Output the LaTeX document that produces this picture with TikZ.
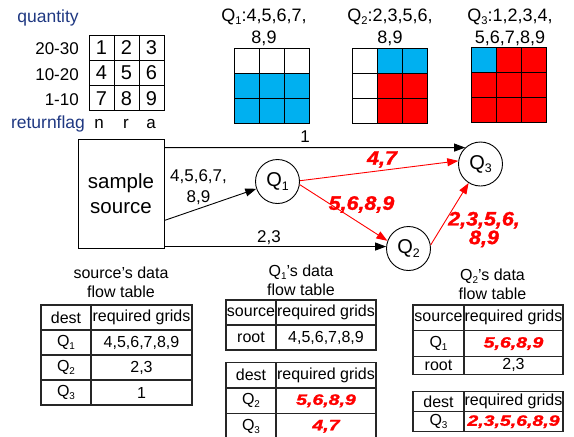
\documentclass[tikz,border=0pt]{standalone}
\usepackage{fontspec}
\setmainfont{Liberation Sans}
\newfontfamily\heavyfont{Liberation Sans}[BoldItalicFeatures={FakeBold=1.5}]
\usetikzlibrary{arrows.meta}
\definecolor{cellblue}{RGB}{0,176,240}
\definecolor{cellred}{RGB}{255,0,0}
\definecolor{axisnavy}{RGB}{31,56,130}
% Q with a lowered, smaller index
\newcommand\Qn[1]{Q\raisebox{-0.35ex}{\scalebox{0.62}{#1}}}
\newcommand\sz[2]{\fontsize{#1}{#2}\selectfont}
% heavy red figures on the arrows and in the tables
\newcommand\hotlabel[1]{{\heavyfont\bfseries\itshape\color{cellred}\sz{19.5}{21}\scalebox{1.1}[1]{#1}}}
\newcommand\hotcell[1]{{\heavyfont\bfseries\itshape\color{cellred}\sz{15}{18}\scalebox{1.3}[1]{#1}}}
% a 3x3 grid of filled cells, colours given row by row
\newcommand\colgrid[3]{%
  \foreach \cc [count=\i from 0] in {#3}{%
    \pgfmathtruncatemacro\cellrow{\i/3}%
    \pgfmathtruncatemacro\cellcol{\i-3*\cellrow}%
    \filldraw[fill=\cc, draw=black, line width=0.9pt]
      ({#1+25.3*\cellcol},{#2+25.3*\cellrow}) rectangle ++(25.3,25.3);
  }}
\begin{document}
\begin{tikzpicture}[x=1pt,y=-1pt,
  axis/.style={text=axisnavy, font=\sz{17.5}{20}, inner sep=0},
  rowlab/.style={font=\sz{17}{20}, inner sep=0},
  numcell/.style={draw, line width=0.9pt, minimum width=25, minimum height=25.3, inner sep=0, font=\sz{20}{24}},
  title/.style={align=center, font=\sz{18}{22}, inner sep=0},
  qnode/.style={circle, draw, line width=0.9pt, minimum size=44, inner sep=0, font=\sz{20}{24}},
  srcbox/.style={draw, line width=0.9pt, minimum width=86, minimum height=109, align=center, font=\sz{20.5}{25}},
  flowlab/.style={align=center, font=\sz{17}{21}, inner sep=0},
  arr/.style={line width=0.9pt, -{Triangle[length=11pt,width=8pt]}},
  redarr/.style={line width=0.9pt, draw=cellred, -{Triangle[length=11pt,width=8pt]}},
  tcell/.style={draw=black!85, line width=1.1pt, inner sep=0, font=\sz{16}{19}},
  ttitle/.style={align=center, font=\sz{16}{19}, inner sep=0},
]
\useasboundingbox (0,0) rectangle (574,437);

% ---- grid legend ----
\node[axis] (qty) at (48,18) {quantity};
\node[axis] (rflag) at (48,124) {returnflag};
\node[rowlab, anchor=east] (r1) at (79,49) {20-30};
\node[rowlab, anchor=east] (r2) at (79,75) {10-20};
\node[rowlab, anchor=east] (r3) at (79,100) {1-10};
\foreach \r in {0,1,2}{\foreach \c in {0,1,2}{%
  \pgfmathtruncatemacro\k{3*\r+\c+1}%
  \node[numcell] (g\k) at ({101.5+25*\c},{47.6+25.3*\r}) {\k};}}
\node[rowlab, anchor=base] (cn) at (99,128) {n};
\node[rowlab, anchor=base] (cr) at (126,128) {r};
\node[rowlab, anchor=base] (ca) at (151,128) {a};

% ---- grids required by each query ----
\node[title] (t1) at (264,27) {\Qn{1}:4,5,6,7,\\8,9};
\node[title] (t2) at (390,27) {\Qn{2}:2,3,5,6,\\8,9};
\node[title] (t3) at (510,27) {\Qn{3}:1,2,3,4,\\5,6,7,8,9};
\colgrid{234}{48}{white,white,white,cellblue,cellblue,cellblue,cellblue,cellblue,cellblue}
\colgrid{352}{48}{white,cellblue,cellblue,white,cellred,cellred,white,cellred,cellred}
\colgrid{471}{47}{cellblue,cellred,cellred,cellred,cellred,cellred,cellred,cellred,cellred}

% ---- data flow graph ----
\node[srcbox] (src) at (121,193.5) {sample\\source};
\node[qnode] (q1) at (277.5,181.5) {\Qn{1}};
\node[qnode] (q2) at (408.5,248.5) {\Qn{2}};
\node[qnode] (q3) at (480.5,164) {\Qn{3}};

\draw[arr] (src.north east) ++(0,9) -- (q3.133);
\draw[arr] (src.south east) ++(0,-28) -- (q1);
\draw[arr] (src.south east) ++(0,-2) -- (q2.175);
\draw[redarr] (q1.2) -- (q3.172);
\draw[redarr] (q1.-8) -- (q2.160);
\draw[redarr] (q2.9) -- (q3.-122);

\node[flowlab] (l1) at (305,137) {1};
\node[flowlab] (l2) at (198.5,187) {4,5,6,7,\\8,9};
\node[flowlab] (l3) at (269,237.5) {2,3};
\node[inner sep=0] (l4) at (382,159.5) {\hotlabel{4,7}};
\node[inner sep=0] (l5) at (361.5,204.5) {\hotlabel{5,6,8,9}};
\node[align=center, inner sep=0] (l6) at (484,229.5) {\hotlabel{2,3,5,6,}\\[1pt]\hotlabel{8,9}};

% ---- source's data flow table ----
\node[ttitle] (st) at (121,282) {source’s data\\flow table};
\node[tcell, minimum width=50, minimum height=25] (s1a) at (66,317.5) {dest};
\node[tcell, minimum width=101, minimum height=25] (s1b) at (141.5,317.5) {required grids};
\node[tcell, minimum width=50, minimum height=25] (s2a) at (66,342.5) {\Qn{1}};
\node[tcell, minimum width=101, minimum height=25] (s2b) at (141.5,342.5) {4,5,6,7,8,9};
\node[tcell, minimum width=50, minimum height=25] (s3a) at (66,367.5) {\Qn{2}};
\node[tcell, minimum width=101, minimum height=25] (s3b) at (141.5,367.5) {2,3};
\node[tcell, minimum width=50, minimum height=25] (s4a) at (66,392.5) {\Qn{3}};
\node[tcell, minimum width=101, minimum height=25] (s4b) at (141.5,392.5) {1};

% ---- Q1's data flow table ----
\node[ttitle] (qt1) at (301,280) {\Qn{1}’s data\\flow table};
\node[tcell, minimum width=50, minimum height=25] (a1a) at (251,312.5) {source};
\node[tcell, minimum width=100, minimum height=25] (a1b) at (326,312.5) {required grids};
\node[tcell, minimum width=50, minimum height=25] (a2a) at (251,337.5) {root};
\node[tcell, minimum width=100, minimum height=25] (a2b) at (326,337.5) {4,5,6,7,8,9};
\node[tcell, minimum width=50, minimum height=25.5] (b1a) at (251,375.25) {dest};
\node[tcell, minimum width=100, minimum height=25.5] (b1b) at (326,375.25) {required grids};
\node[tcell, minimum width=50, minimum height=25.5] (b2a) at (251,400.75) {\Qn{2}};
\node[tcell, minimum width=100, minimum height=25.5] (b2b) at (326,400.75) {\hotcell{5,6,8,9}};
\node[tcell, minimum width=50, minimum height=25.5] (b3a) at (251,426.25) {\Qn{3}};
\node[tcell, minimum width=100, minimum height=25.5] (b3b) at (326,426.25) {\hotcell{4,7}};

% ---- Q2's data flow table ----
\node[ttitle] (qt2) at (492.5,284) {\Qn{2}’s data\\flow table};
\node[tcell, minimum width=51, minimum height=25.5] (c1a) at (438.5,317.75) {source};
\node[tcell, minimum width=99, minimum height=25.5] (c1b) at (513.5,317.75) {required grids};
\node[tcell, minimum width=51, minimum height=26] (c2a) at (438.5,343.5) {\Qn{1}};
\node[tcell, minimum width=99, minimum height=26] (c2b) at (513.5,343.5) {\hotcell{5,6,8,9}};
\node[tcell, minimum width=51, minimum height=17.8] (c3a) at (438.5,365.4) {root};
\node[tcell, minimum width=99, minimum height=17.8] (c3b) at (513.5,365.4) {2,3};
\node[tcell, minimum width=51, minimum height=20] (d1a) at (438.5,401.7) {dest};
\node[tcell, minimum width=99, minimum height=20] (d1b) at (513.5,401.7) {required grids};
\node[tcell, minimum width=51, minimum height=20] (d2a) at (438.5,421.7) {\Qn{3}};
\node[tcell, minimum width=99, minimum height=20] (d2b) at (513.5,421.7) {\hotcell{2,3,5,6,8,9}};
\end{tikzpicture}
\end{document}
